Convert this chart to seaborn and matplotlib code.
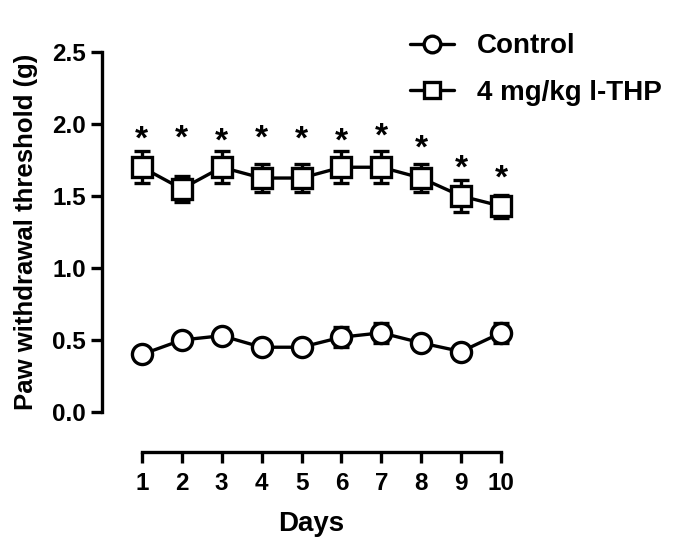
import numpy as np
import pandas as pd
import matplotlib
matplotlib.use("Agg")
import matplotlib.pyplot as plt
from matplotlib.lines import Line2D
import seaborn as sns

# values
days = [1, 2, 3, 4, 5, 6, 7, 8, 9, 10]
control_mean = [0.40, 0.50, 0.53, 0.45, 0.45, 0.52, 0.55, 0.48, 0.42, 0.55]
control_sem = [0.02, 0.02, 0.02, 0.02, 0.02, 0.07, 0.07, 0.02, 0.02, 0.07]
thp_mean = [1.70, 1.55, 1.70, 1.625, 1.625, 1.70, 1.70, 1.625, 1.50, 1.43]
thp_sem = [0.11, 0.09, 0.11, 0.10, 0.10, 0.11, 0.11, 0.10, 0.11, 0.08]
star_y = [1.78, 1.79, 1.77, 1.79, 1.78, 1.77, 1.80, 1.72, 1.58, 1.51]
groups = ["Control", "4 mg/kg l-THP"]

sns.set_style("ticks")
plt.rcParams['font.family'] = ['Liberation Sans', 'DejaVu Sans']
plt.rcParams['font.weight'] = 'bold'
plt.rcParams['text.color'] = 'black'
plt.rcParams['axes.labelcolor'] = 'black'

data = pd.DataFrame({
    "day": days + days,
    "value": control_mean + thp_mean,
    "err": control_sem + thp_sem,
    "group": [groups[0]] * 10 + [groups[1]] * 10,
})

fig = plt.figure(figsize=(7, 5.49), dpi=100)
ax = fig.add_axes([0.1457, 0.2495, 0.5986, 0.6557])

lw = 2.4
for g in groups:
    sub = data[data["group"] == g]
    ax.errorbar(sub["day"], sub["value"], yerr=sub["err"], fmt='none', ecolor='black',
                elinewidth=lw, capsize=6, capthick=lw, clip_on=False, zorder=2)

sns.lineplot(data=data, x="day", y="value", hue="group", style="group",
             palette={groups[0]: "black", groups[1]: "black"},
             markers={groups[0]: "o", groups[1]: "s"}, dashes=False,
             markersize=14.5, markerfacecolor="white", markeredgecolor="black",
             markeredgewidth=lw, linewidth=lw, legend=False, ax=ax,
             clip_on=False, zorder=3)

# significance stars
for d, sy in zip(days, star_y):
    ax.text(d, sy, "*", ha="center", va="bottom", fontsize=24,
            fontweight="bold")

ax.set_xlim(0, 10.5)
ax.set_ylim(0, 2.5)
ax.set_xticks(days)
ax.set_yticks([0.0, 0.5, 1.0, 1.5, 2.0, 2.5])
ax.set_yticklabels(["0.0", "0.5", "1.0", "1.5", "2.0", "2.5"])
ax.spines['top'].set_visible(False)
ax.spines['right'].set_visible(False)
ax.spines['bottom'].set_position(('outward', 29))
ax.spines['bottom'].set_bounds(1, 10)
for sp in ['left', 'bottom']:
    ax.spines[sp].set_linewidth(lw)
    ax.spines[sp].set_color('black')
ax.tick_params(width=lw, length=8, labelsize=17.5, colors='black')
ax.tick_params(axis='x', pad=6)
for lab in ax.get_xticklabels() + ax.get_yticklabels():
    lab.set_fontweight('bold')

ax.set_xlabel("Days", fontsize=20, fontweight="bold", labelpad=12)
ax.set_ylabel("Paw withdrawal threshold (g)", fontsize=18.5, fontweight="bold",
              labelpad=10)

handles = [
    Line2D([], [], color='black', lw=lw, marker=m, markersize=12,
           markerfacecolor='white', markeredgewidth=lw)
    for m in ["o", "s"]
]
fig.legend(handles, groups, loc="upper left", bbox_to_anchor=(0.55, 0.985),
           frameon=False, handlelength=1.6, handletextpad=0.8,
           labelspacing=0.75, prop={'weight': 'bold', 'size': 20})

fig.savefig("out.png", dpi=100)
